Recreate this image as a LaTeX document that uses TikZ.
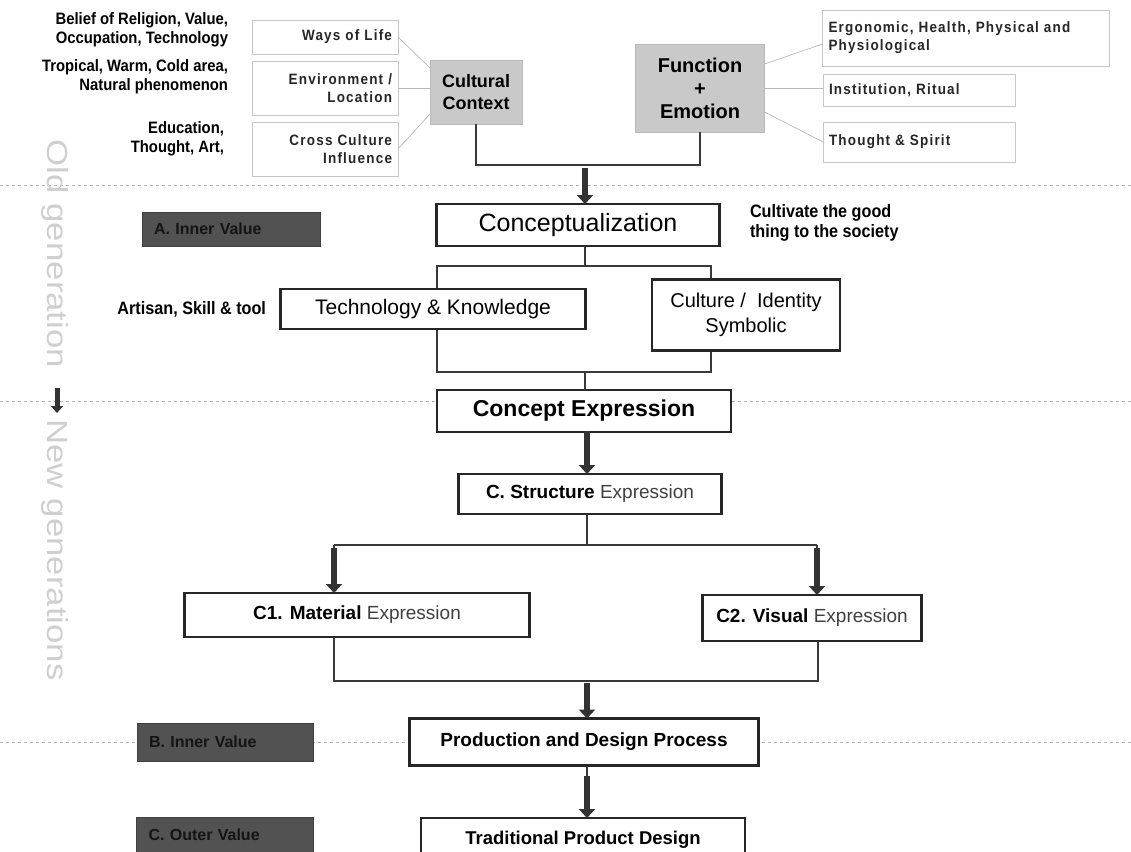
\documentclass[tikz,border=0pt]{standalone}
\usepackage{fontspec}
\setmainfont{Liberation Sans}
\newfontfamily\narrowfont[FakeStretch=0.9]{Liberation Sans}
\newfontfamily\spacedfont[FakeStretch=0.9,LetterSpace=8]{Liberation Sans}
\newfontfamily\widefont[FakeStretch=1.2]{Liberation Sans}
\usetikzlibrary{arrows.meta,calc}

\begin{document}
\begin{tikzpicture}[x=1pt,y=-1pt,
  every node/.style={inner sep=0pt, outer sep=0pt},
  thinbox/.style={draw=gray!45, line width=0.8pt, fill=white, inner xsep=6pt,
    font=\spacedfont\bfseries\fontsize{15}{18}\selectfont, text=black!85},
  mainbox/.style={draw=black!85, line width=2.2pt, fill=white, align=center},
  graybox/.style={fill=gray!42, draw=gray!55, line width=0.5pt, align=center,
    font=\bfseries\fontsize{18}{22}\selectfont},
  darkbox/.style={fill=black!68, draw=black!75, line width=0.5pt, text=black!92,
    inner xsep=12pt, align=left, font=\bfseries\fontsize{16}{19}\selectfont},
  link/.style={draw=gray!45!black, line width=1.6pt},
  faint/.style={draw=gray!55, line width=0.7pt},
  sepline/.style={draw=gray!60, line width=0.8pt, dash pattern=on 3pt off 3pt},
  blockarr/.style={draw=gray!40!black, line width=6pt, -{Triangle[length=9pt,width=16pt]}},
  sidelabel/.style={font=\narrowfont\bfseries\fontsize{16.5}{19}\selectfont, align=right},
  biglabel/.style={font=\narrowfont\bfseries\fontsize{18}{20}\selectfont},
  gentext/.style={font=\widefont\fontsize{29}{29}\selectfont, text=gray!38, rotate=-90}
]
\useasboundingbox (0,0) rectangle (1131,851);
\clip (0,0) rectangle (1131,851);
\fill[white] (0,0) rectangle (1131,851);

% generation separators
\coordinate (s1l) at (0,185);   \coordinate (s1r) at (1131,185);
\coordinate (s2l) at (0,401);   \coordinate (s2r) at (1131,401);
\coordinate (s3l) at (0,742);   \coordinate (s3r) at (1131,742);
\draw[sepline] (s1l) -- (s1r);
\draw[sepline] (s2l) -- (s2r);
\draw[sepline] (s3l) -- (s3r);

% generation labels
\node[gentext] (oldgen) at (55,254) {Old generation};
\node[gentext] (newgen) at (55,550) {New generations};
\coordinate (ga) at (57,388);
\coordinate (gb) at (57,413);
\draw[draw=gray!40!black, line width=5pt, -{Triangle[length=7pt,width=12pt]}] (ga) -- (gb);

% cultural context inputs
\node[thinbox, minimum width=146pt, minimum height=34pt, text width=134pt, align=right]
  (wol) at (325,37) {Ways of Life};
\node[thinbox, minimum width=146pt, minimum height=54pt, text width=134pt, align=right]
  (env) at (325,88) {Environment /\\Location};
\node[thinbox, minimum width=146pt, minimum height=54pt, text width=134pt, align=right]
  (ccu) at (325,149) {Cross Culture\\Influence};

\node[sidelabel, anchor=east] (lb1) at (228,30) {Belief of Religion, Value,\\Occupation, Technology};
\node[sidelabel, anchor=east] (lb2) at (228,77) {Tropical, Warm, Cold area,\\Natural phenomenon};
\node[sidelabel, anchor=east] (lb3) at (224,139) {Education,\\Thought, Art,};

\node[graybox, minimum width=92pt, minimum height=64pt] (cc) at (476,92) {Cultural\\Context};
\node[graybox, minimum width=129pt, minimum height=88pt, font=\bfseries\fontsize{20}{23}\selectfont]
  (fe) at (700,88) {Function\\+\\Emotion};

% function and emotion outputs
\node[thinbox, minimum width=287pt, minimum height=56pt, text width=275pt, align=left]
  (erg) at (966,38) {Ergonomic, Health, Physical and\\Physiological};
\node[thinbox, minimum width=192pt, minimum height=32pt, text width=180pt, align=left]
  (ins) at (919,90) {Institution, Ritual};
\node[thinbox, minimum width=192pt, minimum height=40pt, text width=180pt, align=left]
  (thou) at (919,142) {Thought \& Spirit};

\draw[faint] (wol.east) -- ([yshift=-8pt]cc.north west);
\draw[faint] (env.east) -- (env.east -| cc.west);
\draw[faint] (ccu.east) -- ([yshift=10pt]cc.south west);
\draw[faint] ([yshift=-20pt]fe.north east) -- ([yshift=-6pt]erg.west);
\draw[faint] (fe.east) -- (fe.east -| ins.west);
\draw[faint] ([yshift=20pt]fe.south east) -- (thou.west);

% conceptualization stage
\node[mainbox, minimum width=283pt, minimum height=42pt, font=\fontsize{25}{29}\selectfont]
  (concept) at (578,225) {Conceptualization};
\coordinate (j1) at (585,165);
\draw[link] (cc.south) |- (j1) -| (fe.south);
\draw[blockarr] ([yshift=-3pt]j1) -- (j1 |- concept.north);

\node[biglabel, anchor=north west, align=left] (cult) at (750,204)
  {Cultivate the good\\thing to the society};
\node[darkbox, minimum width=178pt, minimum height=34pt, text width=154pt] (ava) at (231,229) {A. Inner Value};

% technology and culture branch
\coordinate (j2) at (585,266);
\coordinate (r2a) at (437,266);
\coordinate (r2b) at (711,372);
\coordinate (j3) at (585,372);
\draw[link] (r2a) rectangle (r2b);
\draw[link] (concept.south -| j2) -- (j2);

\node[mainbox, minimum width=305pt, minimum height=40pt, font=\fontsize{21}{25}\selectfont]
  (tech) at (433,309) {Technology \& Knowledge};
\node[mainbox, minimum width=188pt, minimum height=71pt, font=\fontsize{20}{25}\selectfont]
  (ident) at (746,315) {Culture /\ \ Identity\\Symbolic};
\node[biglabel, anchor=east] (art) at (266,309) {Artisan, Skill \& tool};

% expression stage
\node[mainbox, minimum width=294pt, minimum height=42pt, font=\bfseries\fontsize{23}{27}\selectfont]
  (cexp) at (584,411) {Concept Expression};
\draw[link] (j3) -- (j3 |- cexp.north);

\node[mainbox, minimum width=263pt, minimum height=40pt, font=\fontsize{19}{23}\selectfont]
  (cstr) at (590,494) {\textbf{C. Structure} {\color{black!75}Expression}};
\coordinate (a3) at (587,431);
\draw[blockarr] (a3) -- (a3 |- cstr.north);

\coordinate (j4) at (587,545);
\coordinate (j4l) at (334,545);
\coordinate (j4r) at (817,545);
\draw[link] (cstr.south -| j4) -- (j4);
\draw[link] (j4l) -- (j4r);

\node[mainbox, minimum width=345pt, minimum height=44pt, font=\fontsize{19}{23}\selectfont]
  (cmat) at (357,615) {\textbf{C1. Material} {\color{black!75}Expression}};
\node[mainbox, minimum width=219pt, minimum height=46pt, font=\fontsize{19}{23}\selectfont]
  (cvis) at (812,618) {\textbf{C2. Visual} {\color{black!75}Expression}};
\draw[link] (j4l) -- ([yshift=-4pt]j4l);
\draw[link] (j4r) -- ([yshift=-4pt]j4r);
\draw[blockarr] ([yshift=-3pt]j4l) -- (j4l |- cmat.north);
\draw[blockarr] ([yshift=-3pt]j4r) -- (j4r |- cvis.north);

% production stage
\coordinate (j5) at (587,681);
\coordinate (j5l) at (334,681);
\coordinate (j5r) at (818,681);
\draw[link] (j5l |- cmat.south) -- (j5l) -- (j5r) -- (j5r |- cvis.south);

\node[mainbox, minimum width=349pt, minimum height=47pt, font=\bfseries\fontsize{19}{23}\selectfont]
  (prod) at (584,742) {Production and Design Process};
\draw[blockarr] ([yshift=-2pt]j5) -- (j5 |- prod.north);
\node[darkbox, minimum width=176pt, minimum height=38pt, text width=152pt] (biv) at (225,742) {B. Inner Value};

\node[mainbox, minimum width=324pt, minimum height=44pt, font=\bfseries\fontsize{18.5}{22}\selectfont]
  (trad) at (583,840) {Traditional Product Design};
\draw[link] (prod.south -| j5) -- ([yshift=-12pt]prod.south -| j5);
\draw[blockarr] ([yshift=-10pt]prod.south -| j5) -- (j5 |- trad.north);
\node[darkbox, minimum width=177pt, minimum height=36pt, text width=153pt] (cov) at (225,835) {C. Outer Value};
\end{tikzpicture}
\end{document}
